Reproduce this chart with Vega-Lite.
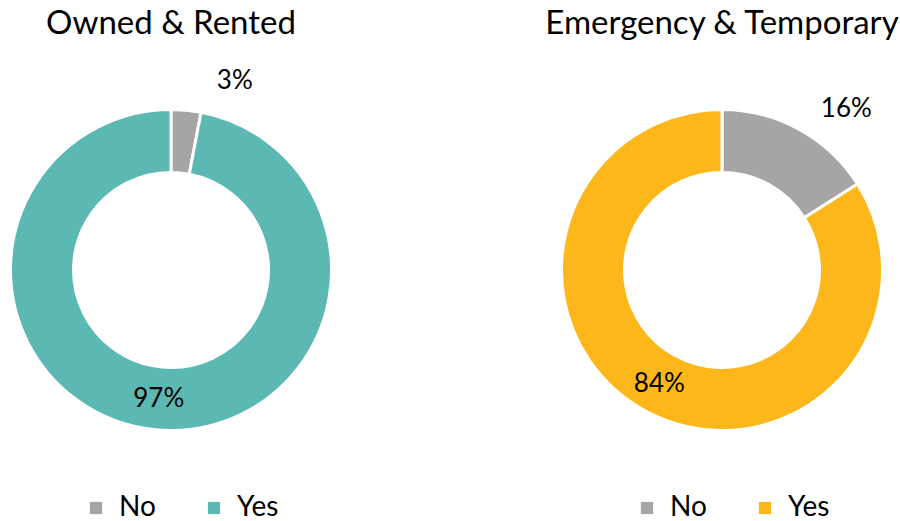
{
  "$schema": "https://vega.github.io/schema/vega-lite/v6.json",
  "padding": {"left": 0, "top": 7, "right": 0, "bottom": 0},
  "bounds": "flush",
  "spacing": 209,
  "datasets": {
    "owned": [{"answer": "No", "pct": 3}, {"answer": "Yes", "pct": 97}],
    "emergency": [{"answer": "No", "pct": 16}, {"answer": "Yes", "pct": 84}]
  },
  "config": {
    "view": {"stroke": null},
    "font": "Lato",
    "title": {"fontSize": 33, "fontWeight": "normal", "color": "#000000", "offset": 27, "font": "Lato"},
    "legend": {
      "orient": "none",
      "direction": "horizontal",
      "symbolType": "square",
      "symbolSize": 150,
      "symbolStrokeWidth": 0,
      "labelFontSize": 28,
      "labelFont": "Lato",
      "labelColor": "#000000",
      "labelOffset": 9,
      "columnPadding": 44,
      "title": null,
      "padding": 0
    }
  },
  "resolve": {"scale": {"color": "independent", "theta": "independent"}, "legend": {"color": "independent"}},
  "hconcat": [
    {
      "width": 342,
      "height": 404,
      "title": "Owned & Rented",
      "data": {"name": "owned"},
      "transform": [{"calculate": "datum.pct + '%'", "as": "label"}],
      "encoding": {
        "theta": {"field": "pct", "type": "quantitative", "stack": true},
        "order": {"field": "answer", "type": "ordinal", "sort": "ascending"}
      },
      "layer": [
        {
          "mark": {"type": "arc", "innerRadius": 97.5, "outerRadius": 160.5, "stroke": "white", "strokeWidth": 3},
          "encoding": {
            "color": {
              "field": "answer",
              "type": "nominal",
              "scale": {"domain": ["No", "Yes"], "range": ["#A5A5A5", "#5BB8B3"]},
              "legend": {"orient": "none", "legendX": 82, "legendY": 426, "direction": "horizontal"}
            }
          }
        },
        {
          "mark": {"type": "text", "radius": 130, "fontSize": 26, "color": "#000000", "font": "Lato"},
          "encoding": {
            "text": {"field": "label"},
            "opacity": {"condition": {"test": "datum.answer == 'Yes'", "value": 1}, "value": 0}
          }
        },
        {
          "mark": {"type": "text", "radius": 200, "dx": 45, "dy": 10, "fontSize": 26, "color": "#000000", "font": "Lato"},
          "encoding": {
            "text": {"field": "label"},
            "opacity": {"condition": {"test": "datum.answer == 'No'", "value": 1}, "value": 0}
          }
        }
      ]
    },
    {
      "width": 342,
      "height": 404,
      "title": "Emergency & Temporary",
      "data": {"name": "emergency"},
      "transform": [{"calculate": "datum.pct + '%'", "as": "label"}],
      "encoding": {
        "theta": {"field": "pct", "type": "quantitative", "stack": true},
        "order": {"field": "answer", "type": "ordinal", "sort": "ascending"}
      },
      "layer": [
        {
          "mark": {"type": "arc", "innerRadius": 97.5, "outerRadius": 160.5, "stroke": "white", "strokeWidth": 3},
          "encoding": {
            "color": {
              "field": "answer",
              "type": "nominal",
              "scale": {"domain": ["No", "Yes"], "range": ["#A5A5A5", "#FDB71A"]},
              "legend": {"orient": "none", "legendX": 82, "legendY": 426, "direction": "horizontal"}
            }
          }
        },
        {
          "mark": {"type": "text", "radius": 130, "fontSize": 26, "color": "#000000", "font": "Lato"},
          "encoding": {
            "text": {"field": "label"},
            "opacity": {"condition": {"test": "datum.answer == 'Yes'", "value": 1}, "value": 0}
          }
        },
        {
          "mark": {"type": "text", "radius": 200, "dx": 28, "dy": 14, "fontSize": 26, "color": "#000000", "font": "Lato"},
          "encoding": {
            "text": {"field": "label"},
            "opacity": {"condition": {"test": "datum.answer == 'No'", "value": 1}, "value": 0}
          }
        }
      ]
    }
  ]
}
